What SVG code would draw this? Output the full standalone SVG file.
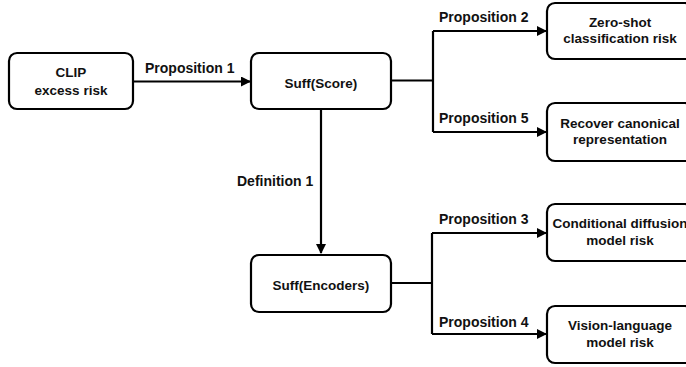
<svg xmlns="http://www.w3.org/2000/svg" width="686" height="367" viewBox="0 0 686 367">
<style>
.box{fill:#fff;stroke:#000;stroke-width:2.2}
.nt{font-family:"Liberation Sans",Arial,sans-serif;font-weight:bold;font-size:13.5px;text-anchor:middle;fill:#111}
.lt{font-family:"Liberation Sans",Arial,sans-serif;font-weight:bold;font-size:14px;fill:#111}
.ln{fill:none;stroke:#000;stroke-width:2.2}
</style>
<defs>
<marker id="ah" markerWidth="10" markerHeight="10" refX="9" refY="5" orient="auto" markerUnits="userSpaceOnUse">
<path d="M0,0 L10,5 L0,10 Z" fill="#000"/>
</marker>
</defs>
<rect width="686" height="367" fill="#fff"/>
<g id="connectors">
<path class="ln" d="M133,81.5 H250" marker-end="url(#ah)"/>
<path class="ln" d="M321,109 V253" marker-end="url(#ah)"/>
<path class="ln" d="M391,80.5 H433"/>
<path class="ln" d="M433,31 V132"/>
<path class="ln" d="M433,31 H546" marker-end="url(#ah)"/>
<path class="ln" d="M433,132 H546" marker-end="url(#ah)"/>
<path class="ln" d="M391,283 H432"/>
<path class="ln" d="M432,233 V334"/>
<path class="ln" d="M432,233 H546" marker-end="url(#ah)"/>
<path class="ln" d="M432,334 H546" marker-end="url(#ah)"/>
<text class="lt" x="145" y="73">Proposition 1</text>
<text class="lt" x="237" y="186">Definition 1</text>
<text class="lt" x="439" y="22">Proposition 2</text>
<text class="lt" x="439" y="123">Proposition 5</text>
<text class="lt" x="439" y="224">Proposition 3</text>
<text class="lt" x="439" y="327">Proposition 4</text>
</g>
<g id="clip">
<rect class="box" x="9" y="53" width="124" height="56" rx="8"/>
<text class="nt" x="71" y="77">CLIP</text>
<text class="nt" x="71" y="95">excess risk</text>
</g>
<g id="score">
<rect class="box" x="251" y="53" width="140" height="56" rx="8"/>
<text class="nt" x="321" y="88">Suff(Score)</text>
</g>
<g id="encoders">
<rect class="box" x="251" y="255" width="140" height="57" rx="8"/>
<text class="nt" x="321" y="290">Suff(Encoders)</text>
</g>
<g id="zeroshot">
<rect class="box" x="547" y="3" width="146" height="56" rx="8"/>
<text class="nt" x="620" y="27">Zero-shot</text>
<text class="nt" x="620" y="43">classification risk</text>
</g>
<g id="recover">
<rect class="box" x="547" y="103" width="146" height="58" rx="8"/>
<text class="nt" x="620" y="128">Recover canonical</text>
<text class="nt" x="620" y="144">representation</text>
</g>
<g id="diffusion">
<rect class="box" x="547" y="204" width="146" height="57" rx="8"/>
<text class="nt" x="620" y="228">Conditional diffusion</text>
<text class="nt" x="620" y="245">model risk</text>
</g>
<g id="vlm">
<rect class="box" x="547" y="306" width="146" height="57" rx="8"/>
<text class="nt" x="620" y="330">Vision-language</text>
<text class="nt" x="620" y="347">model risk</text>
</g>
</svg>
